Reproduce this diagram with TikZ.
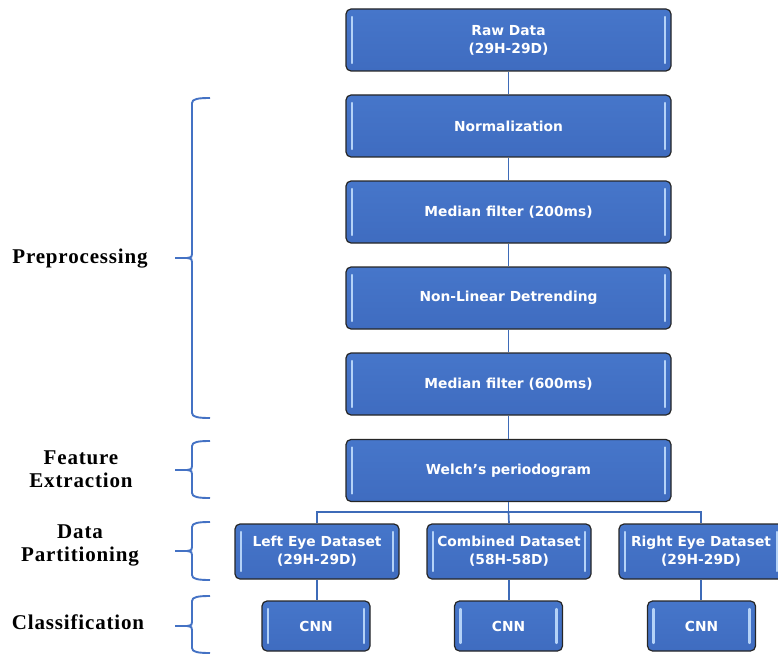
\documentclass[tikz,border=0pt]{standalone}
\usepackage{fontspec}
\setmainfont{Liberation Serif}[LetterSpace=4]
\newfontfamily\boxfontfam{DejaVu Sans}
\usetikzlibrary{calc}
\definecolor{boxblue}{HTML}{4676CA}
\definecolor{boxblue2}{HTML}{3F6CC0}
\definecolor{gloss}{HTML}{B4D2F7}
\definecolor{connblue}{HTML}{3E6BB8}
\definecolor{braceblue}{HTML}{4472C4}
\newcommand\boxfont{\boxfontfam\bfseries\fontsize{13.8}{18}\selectfont}
\newcommand\labfont{\bfseries\fontsize{21}{23}\selectfont}
\newcommand\mybrace[3]{%
  \draw[brace] (210,#1) .. controls (198,#1) and (192,{#1+1}) .. (192,{#1+5})
     -- (192,{#2-4}) .. controls (192,{#2-1}) .. (187,#2)
     .. controls (192,{#2+1}) .. (192,{#2+4})
     -- (192,{#3-5}) .. controls (192,{#3-1}) and (198,#3) .. (210,#3);
  \draw[brace] (175,#2) -- (188,#2);}
\tikzset{
  box/.style={draw=black!85, line width=1.2pt, rounded corners=5pt,
    top color=boxblue, bottom color=boxblue2, text=white, font=\boxfont,
    align=center, inner sep=0pt,
    path picture={
      \draw[gloss, line width=2.2pt, line cap=round]
        ([xshift=6pt,yshift=-8pt]path picture bounding box.north west) --
        ([xshift=6pt,yshift=8pt]path picture bounding box.south west);
      \draw[gloss, line width=2.2pt, line cap=round]
        ([xshift=-6pt,yshift=-8pt]path picture bounding box.north east) --
        ([xshift=-6pt,yshift=8pt]path picture bounding box.south east);
    }},
  mainbox/.style={box, minimum width=325pt, minimum height=62pt},
  databox/.style={box, minimum width=164pt, minimum height=55pt},
  cnnbox/.style={box, minimum width=108pt, minimum height=50pt},
  conn/.style={draw=connblue, line width=1.7pt},
  brace/.style={draw=braceblue, line width=1.9pt},
  lab/.style={font=\labfont, align=center, text=black, inner sep=0pt}
}
\begin{document}
\begin{tikzpicture}[x=1pt,y=-1pt]
\useasboundingbox (0,0) rectangle (778,655);
% main column
\node[mainbox] (raw) at (508.5,40) {Raw Data\\(29H-29D)};
\node[mainbox] (norm) at (508.5,126) {Normalization};
\node[mainbox] (med1) at (508.5,212) {Median filter (200ms)};
\node[mainbox] (detr) at (508.5,298) {Non-Linear Detrending};
\node[mainbox] (med2) at (508.5,384) {Median filter (600ms)};
\node[mainbox] (welch) at (508.5,470.5) {Welch’s periodogram};
% datasets
\node[databox] (left) at (317,551.5) {Left Eye Dataset\\(29H-29D)};
\node[databox] (comb) at (509,551.5) {Combined Dataset\\(58H-58D)};
\node[databox] (right) at (701,551.5) {Right Eye Dataset\\(29H-29D)};
% CNN
\node[cnnbox] (cnnl) at (316,626) {CNN};
\node[cnnbox] (cnnc) at (508.5,626) {CNN};
\node[cnnbox] (cnnr) at (701.5,626) {CNN};
% connectors
\draw[conn] (raw) -- (norm);
\draw[conn] (norm) -- (med1);
\draw[conn] (med1) -- (detr);
\draw[conn] (detr) -- (med2);
\draw[conn] (med2) -- (welch);
\coordinate (split) at (508.5,512);
\draw[conn] (welch.south) -- (split);
\draw[conn] (left.north) |- (split) -| (right.north);
\draw[conn] (split) -- (comb.north);
\draw[conn] (left) -- (left|-cnnl.north);
\draw[conn] (comb) -- (comb|-cnnc.north);
\draw[conn] (right) -- (right|-cnnr.north);
% braces
\mybrace{98}{258}{418}
\mybrace{441}{470}{498}
\mybrace{522}{551}{580}
\mybrace{596}{626}{653}
% labels
\node[lab] (pre) at (80,259) {Preprocessing};
\node[lab] (feat) at (81,469) {Feature\\Extraction};
\node[lab] (part) at (80,545) {Data\\Partitioning};
\node[lab] (cls) at (78,622) {Classification};
\end{tikzpicture}
\end{document}
